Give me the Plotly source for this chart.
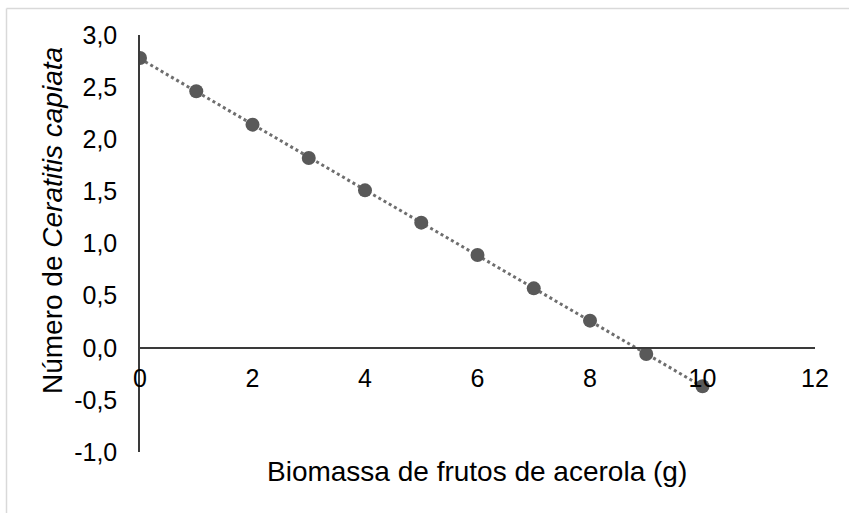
import numpy as np
import plotly.graph_objects as go

# Data
biomassa = [0, 1, 2, 3, 4, 5, 6, 7, 8, 9, 10]
numero = [2.78, 2.46, 2.14, 1.82, 1.51, 1.20, 0.89, 0.57, 0.26, -0.06, -0.37]
x_ticks = [0, 2, 4, 6, 8, 10, 12]
y_ticks = [-1.0, -0.5, 0.0, 0.5, 1.0, 1.5, 2.0, 2.5, 3.0]
y_tick_labels = ["-1,0", "-0,5", "0,0", "0,5", "1,0", "1,5", "2,0", "2,5", "3,0"]
x_title = "Biomassa de frutos de acerola (g)"
y_title = "Número de <i>Ceratitis capiata</i>"

# Linear trendline (least squares fit of the data)
slope, intercept = np.polyfit(biomassa, numero, 1)
trend_x = [biomassa[0], biomassa[-1]]
trend_y = [intercept + slope * v for v in trend_x]

W, H = 849, 513
L, R, T, B = 140, 34, 35, 61
pw, ph = W - L - R, H - T - B

def px_x(p):
    return (p - L) / pw

def px_y(p):
    return (H - B - p) / ph

FONT = "Liberation Sans, Arial, sans-serif"
TICK = 25
TITLE = 28

fig = go.Figure()
fig.add_trace(go.Scatter(
    x=trend_x, y=trend_y, mode="lines",
    line=dict(color="#6e6e6e", width=3, dash="dot"),
    hoverinfo="skip", showlegend=False,
))
fig.add_trace(go.Scatter(
    x=biomassa, y=numero, mode="markers",
    marker=dict(color="#595959", size=14),
    showlegend=False,
))

fig.update_layout(
    width=W, height=H,
    margin=dict(l=L, r=R, t=T, b=B),
    paper_bgcolor="white", plot_bgcolor="white",
    font=dict(family=FONT, size=TICK, color="#000000"),
    xaxis=dict(
        range=[0, 12], tickvals=x_ticks, ticktext=[str(v) for v in x_ticks],
        anchor="free", position=0.25,
        showline=True, linecolor="#3a3a3a", linewidth=1.5,
        showgrid=False, zeroline=False, ticks="", ticklen=0,
        ticklabelstandoff=8,
        tickfont=dict(family=FONT, size=TICK, color="#000000"),
    ),
    yaxis=dict(
        range=[-1, 3], tickvals=y_ticks, ticktext=y_tick_labels,
        showline=True, linecolor="#3a3a3a", linewidth=1.5,
        showgrid=False, zeroline=False, ticks="", ticklen=0,
        ticklabelstandoff=16,
        tickfont=dict(family=FONT, size=TICK, color="#000000"),
    ),
    annotations=[
        dict(text=x_title, xref="paper", yref="paper",
             x=px_x(477), y=px_y(471), xanchor="center", yanchor="middle",
             showarrow=False, font=dict(family=FONT, size=TITLE, color="#000000")),
        dict(text=y_title, xref="paper", yref="paper",
             x=px_x(52), y=px_y(221), xanchor="center", yanchor="middle",
             textangle=-90, showarrow=False,
             font=dict(family=FONT, size=TITLE, color="#000000")),
    ],
    shapes=[
        dict(type="line", xref="paper", yref="paper",
             x0=px_x(6.5), x1=px_x(900), y0=px_y(8.5), y1=px_y(8.5),
             line=dict(color="#d9d9d9", width=1.5)),
        dict(type="line", xref="paper", yref="paper",
             x0=px_x(6.5), x1=px_x(6.5), y0=px_y(8.5), y1=px_y(600),
             line=dict(color="#d9d9d9", width=1.5)),
    ],
)

fig.write_html("out.html")
